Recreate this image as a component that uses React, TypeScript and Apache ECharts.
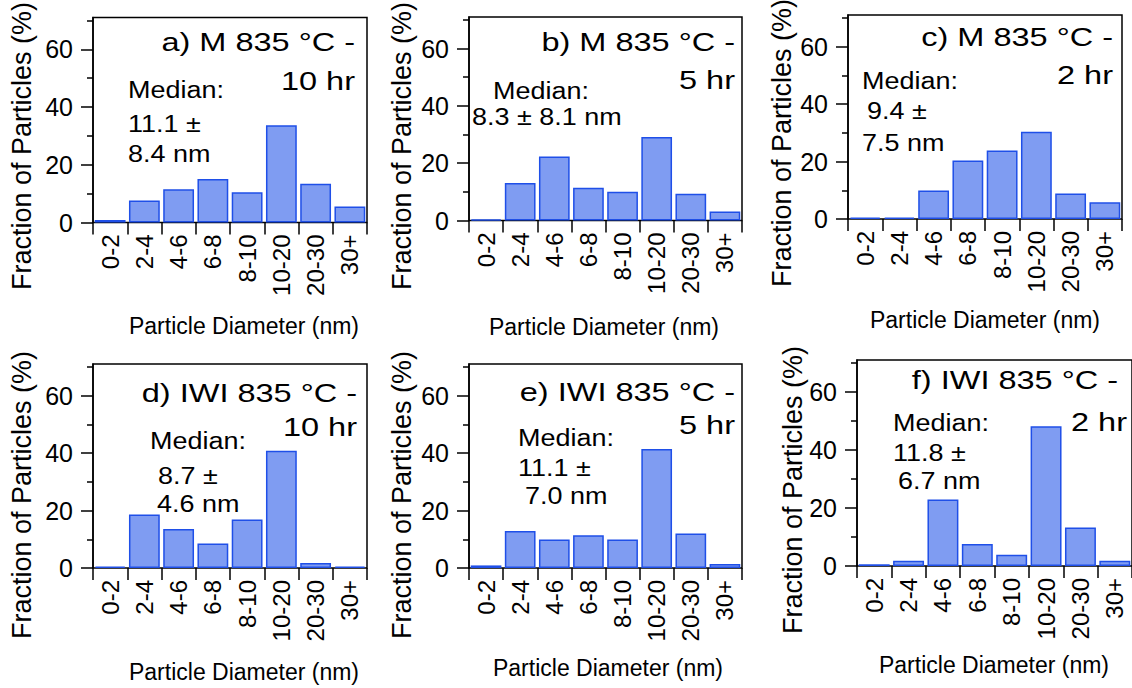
import React, { useEffect, useRef } from "react";
import * as echarts from "echarts";

const categories = ["0-2", "2-4", "4-6", "6-8", "8-10", "10-20", "20-30", "30+"];
const valuesA = [0.9, 7.6, 11.5, 15.1, 10.5, 33.7, 13.4, 5.5];
const valuesB = [0.4, 13.1, 22.3, 11.4, 10.0, 29.1, 9.3, 3.1];
const valuesC = [0.5, 0.5, 9.9, 20.4, 23.8, 30.4, 8.9, 5.8];
const valuesD = [0.5, 18.6, 13.6, 8.5, 16.9, 40.8, 1.7, 0.5];
const valuesE = [0.9, 12.9, 9.9, 11.4, 9.9, 41.4, 12.0, 1.4];
const valuesF = [0.6, 1.8, 22.9, 7.6, 3.9, 48.2, 13.3, 1.8];
const allValues = [valuesA, valuesB, valuesC, valuesD, valuesE, valuesF];

const majorTicks = [0, 20, 40, 60];
const minorTicks = [10, 30, 50, 70];
const yMax = 71;

const titleLine1 = [
  "a) M 835 °C -",
  "b) M 835 °C -",
  "c) M 835 °C -",
  "d) IWI 835 °C -",
  "e) IWI 835 °C -",
  "f) IWI 835 °C -",
];
const titleLine2 = ["10 hr", "5 hr", "2 hr", "10 hr", "5 hr", "2 hr"];
const medianTexts = [
  ["Median:", "11.1 ±", "8.4 nm"],
  ["Median:", "8.3 ± 8.1 nm"],
  ["Median:", "9.4 ±", "7.5 nm"],
  ["Median:", "8.7 ±", "4.6 nm"],
  ["Median:", "11.1 ±", "7.0 nm"],
  ["Median:", "11.8 ±", "6.7 nm"],
];
const yTitle = "Fraction of Particles (%)";
const xTitle = "Particle Diameter (nm)";

// layout (pixels)
const grids = [
  { left: 93, top: 17.5, width: 274, height: 205 },
  { left: 469, top: 17, width: 273, height: 203.5 },
  { left: 848, top: 15, width: 274, height: 204 },
  { left: 93, top: 364, width: 274, height: 204 },
  { left: 469, top: 364, width: 273, height: 204 },
  { left: 857, top: 360, width: 278, height: 206 },
];
const titlePos = [
  [[355, 42], [355, 81]],
  [[735, 42], [735, 80]],
  [[1113, 37], [1113, 75]],
  [[357, 393], [357, 427]],
  [[735, 392], [735, 425]],
  [[1118, 380], [1127, 422]],
];
const medianPos = [
  [[128, 89], [128, 123], [128, 153]],
  [[493, 90], [472, 116]],
  [[862, 80], [867, 110], [862, 142]],
  [[150, 440], [158, 475], [157, 503]],
  [[518, 437], [518, 467], [525, 495]],
  [[893, 422], [893, 452], [898, 480]],
];
const yTitlePos = [[22, 146], [402, 146], [782, 143], [22, 495], [402, 495], [793, 490]];
const xTitlePos = [[244, 326], [604, 327], [985, 320], [244, 672], [608, 668], [994, 665]];

const FONT = "Liberation Sans, Arial, Helvetica, sans-serif";

export default function App() {
  const ref = useRef<HTMLDivElement>(null);
  useEffect(() => {
    if (!ref.current) return;
    const chart = echarts.init(ref.current, null, { renderer: "svg" });
    const grid: any[] = [];
    const xAxis: any[] = [];
    const yAxis: any[] = [];
    const series: any[] = [];
    const graphic: any[] = [];
    allValues.forEach((vals, i) => {
      grid.push({ ...grids[i], show: true, borderColor: "#000", borderWidth: 1.5, backgroundColor: "transparent" });
      xAxis.push({
        type: "category",
        gridIndex: i,
        data: categories,
        offset: 3,
        axisLine: { show: false },
        axisTick: { show: true, length: 12, lineStyle: { color: "#000", width: 1.5 } },
        axisLabel: { rotate: 90, interval: 0, margin: 9, fontSize: 24, color: "#000", fontFamily: FONT },
        splitLine: { show: false },
      });
      yAxis.push({
        type: "value",
        gridIndex: i,
        position: "left",
        min: 0,
        max: yMax,
        interval: 20,
        axisLine: { show: true, lineStyle: { color: "#000", width: 1.5 } },
        axisTick: { show: true, length: 12, customValues: majorTicks, lineStyle: { color: "#000", width: 1.5 } },
        axisLabel: {
          show: true,
          showMaxLabel: false,
          fontSize: 25,
          margin: 20,
          color: "#000",
          fontFamily: FONT,
          formatter: (v: number) => (majorTicks.indexOf(v) >= 0 ? String(v) : ""),
        },
        splitLine: { show: false },
      });
      yAxis.push({
        type: "value",
        gridIndex: i,
        position: "left",
        min: 0,
        max: yMax,
        axisLine: { show: false },
        axisTick: { show: true, length: 6, customValues: minorTicks, lineStyle: { color: "#000", width: 1.5 } },
        axisLabel: { show: false },
        splitLine: { show: false },
      });
      series.push({
        type: "bar",
        xAxisIndex: i,
        yAxisIndex: i * 2,
        data: vals,
        barCategoryGap: "10%",
        itemStyle: { color: "#7f9cf2", borderColor: "#1f4fe8", borderWidth: 1.5 },
      });
      [titleLine1[i], titleLine2[i]].forEach((t, k) => {
        graphic.push({
          type: "text",
          x: titlePos[i][k][0],
          y: titlePos[i][k][1],
          scaleX: 1.25,
          style: { text: t, font: `26px ${FONT}`, fill: "#000", align: "right", verticalAlign: "middle" },
        });
      });
      medianTexts[i].forEach((t, k) => {
        graphic.push({
          type: "text",
          x: medianPos[i][k][0],
          y: medianPos[i][k][1],
          scaleX: 1.1,
          style: { text: t, font: `24.5px ${FONT}`, fill: "#000", align: "left", verticalAlign: "middle" },
        });
      });
      graphic.push({
        type: "text",
        x: yTitlePos[i][0],
        y: yTitlePos[i][1],
        rotation: Math.PI / 2,
        style: { text: yTitle, font: `27px ${FONT}`, fill: "#000", align: "center", verticalAlign: "middle" },
      });
      graphic.push({
        type: "text",
        x: xTitlePos[i][0],
        y: xTitlePos[i][1],
        style: { text: xTitle, font: `23px ${FONT}`, fill: "#000", align: "center", verticalAlign: "middle" },
      });
    });
    chart.setOption({
      animation: false,
      backgroundColor: "#fff",
      textStyle: { fontFamily: FONT },
      grid,
      xAxis,
      yAxis,
      series,
      graphic,
    });
    return () => chart.dispose();
  }, []);
  return (
    <div
      ref={ref}
      style={{ position: "fixed", left: 0, top: 0, width: 1132, height: 688 }}
    />
  );
}
